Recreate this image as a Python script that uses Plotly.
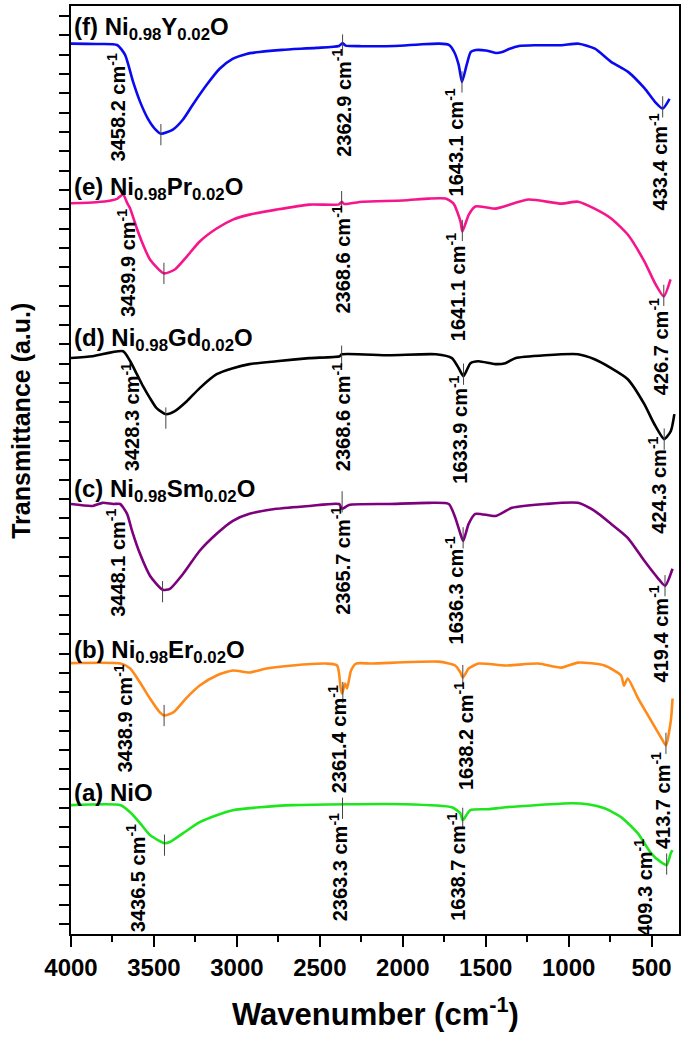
import plotly.graph_objects as go

# ---------------- data (wavenumber cm^-1, transmittance a.u. with offsets) -------------
wn_f = [4000, 3850, 3722, 3674, 3626, 3584, 3536, 3490, 3458, 3386, 3326, 3266, 3182, 3104, 3026, 2942,
        2864, 2726, 2522, 2385, 2363, 2345, 2246, 2050, 1900, 1780, 1720, 1690, 1663, 1643, 1615, 1590,
        1560, 1500, 1440, 1400, 1360, 1300, 1200, 1044, 940, 842, 744, 642, 542, 480, 433, 392]
t_f = [45.57, 45.55, 45.50, 44.99, 43.60, 42.57, 41.68, 41.12, 40.91, 41.12, 41.63, 42.41, 43.44, 44.27,
       44.78, 45.04, 45.14, 45.25, 45.35, 45.45, 45.60, 45.47, 45.44, 45.45, 45.53, 45.57, 45.50, 45.14,
       44.47, 43.59, 44.47, 45.14, 45.24, 45.22, 45.09, 45.14, 45.29, 45.45, 45.49, 45.49, 45.57, 45.31,
       44.63, 44.11, 43.25, 42.56, 42.21, 42.71]

wn_e = [4000, 3850, 3760, 3720, 3686, 3660, 3643, 3603, 3566, 3524, 3440, 3374, 3302, 3224, 3122, 3024,
        2924, 2762, 2564, 2385, 2368, 2352, 2245, 2000, 1843, 1742, 1694, 1652, 1641, 1602, 1562, 1500,
        1442, 1244, 1044, 944, 844, 744, 644, 544, 476, 427, 386]
t_e = [37.31, 37.36, 37.45, 37.55, 37.76, 37.30, 37.03, 36.00, 35.17, 34.40, 33.68, 33.88, 34.55, 35.33,
       36.00, 36.46, 36.72, 36.98, 37.24, 37.25, 37.38, 37.27, 37.39, 37.45, 37.55, 37.55, 37.29, 36.36,
       35.85, 36.72, 37.14, 37.10, 37.03, 37.50, 37.29, 37.39, 37.03, 36.52, 35.69, 34.30, 33.11, 32.49,
       33.37]

wn_d = [4000, 3870, 3686, 3643, 3603, 3566, 3524, 3484, 3428, 3374, 3302, 3224, 3122, 3024, 2924, 2762,
        2564, 2380, 2368, 2083, 1800, 1704, 1663, 1634, 1592, 1544, 1442, 1382, 1322, 1142, 944, 844, 744,
        644, 544, 484, 424, 384, 363]
t_d = [29.30, 29.39, 29.65, 29.13, 28.46, 27.84, 27.22, 26.70, 26.39, 26.55, 27.06, 27.74, 28.46, 28.77,
       28.98, 29.13, 29.29, 29.39, 29.49, 29.44, 29.49, 29.29, 28.77, 28.36, 29.03, 29.13, 28.98, 29.03,
       29.29, 29.44, 29.49, 29.23, 28.77, 28.20, 26.91, 25.88, 25.10, 25.52, 26.39]

wn_c = [4000, 3870, 3810, 3745, 3704, 3662, 3632, 3584, 3524, 3448, 3404, 3324, 3224, 3122, 3024, 2924,
        2762, 2564, 2384, 2366, 2324, 2083, 1843, 1723, 1683, 1653, 1636, 1603, 1563, 1442, 1342, 1142,
        944, 844, 744, 644, 544, 464, 419, 374]
t_c = [21.74, 21.64, 21.80, 21.74, 21.74, 21.23, 20.35, 19.16, 18.03, 17.30, 17.35, 18.13, 19.32, 20.20,
       20.87, 21.23, 21.49, 21.64, 21.74, 21.49, 21.69, 21.74, 21.80, 21.74, 21.02, 20.20, 19.83, 20.71,
       21.23, 21.12, 21.54, 21.74, 21.80, 21.38, 20.71, 19.99, 18.80, 17.92, 17.51, 18.39]

wn_b = [4000, 3700, 3643, 3584, 3524, 3464, 3439, 3384, 3302, 3224, 3122, 3024, 2924, 2822, 2664, 2462,
        2396, 2374, 2366, 2348, 2336, 2312, 2282, 2184, 1784, 1684, 1653, 1638, 1603, 1543, 1382, 1184,
        1044, 944, 784, 684, 667, 644, 584, 504, 444, 414, 384, 374]
t_b = [13.50, 13.48, 13.22, 12.50, 11.67, 10.95, 10.79, 10.95, 11.72, 12.34, 12.86, 13.12, 13.02, 13.22,
       13.38, 13.48, 13.38, 12.19, 11.93, 12.45, 12.19, 13.12, 13.48, 13.48, 13.58, 13.38, 13.02, 12.76,
       13.22, 13.48, 13.38, 13.48, 13.27, 13.53, 13.38, 12.86, 12.34, 12.71, 11.72, 10.54, 9.66, 9.25,
       10.54, 11.67]

wn_a = [4000, 3700, 3643, 3584, 3524, 3436, 3404, 3324, 3224, 3122, 3024, 2864, 2664, 2000, 1704, 1653,
        1639, 1593, 1483, 1382, 984, 884, 784, 684, 584, 504, 444, 409, 384, 374]
t_a = [6.15, 6.15, 5.78, 5.22, 4.60, 4.18, 4.24, 4.70, 5.27, 5.63, 5.89, 6.04, 6.15, 6.20, 6.04, 5.73,
       5.37, 5.89, 5.94, 6.04, 6.25, 6.20, 5.99, 5.53, 4.70, 3.67, 3.20, 3.05, 3.67, 3.82]

# peak positions (cm^-1) and transmittance at the peak markers
peaks_f = [3458.2, 2362.9, 1643.1, 433.4]
mark_f = [40.86, 45.50, 43.59, 42.30]
peaks_e = [3439.9, 2368.6, 1641.1, 426.7]
mark_e = [33.68, 37.39, 35.90, 32.54]
peaks_d = [3428.3, 2368.6, 1633.9, 424.3]
mark_d = [26.19, 29.39, 28.46, 25.10]
peaks_c = [3448.1, 2365.7, 1636.3, 419.4]
mark_c = [17.20, 21.85, 19.99, 17.51]
peaks_b = [3438.9, 2361.4, 1638.2, 413.7]
mark_b = [10.79, 11.98, 12.86, 9.35]
peaks_a = [3436.5, 2363.3, 1638.7, 409.3]
mark_a = [4.08, 5.99, 5.47, 3.10]

sample_names = ["(f) Ni<sub>0.98</sub>Y<sub>0.02</sub>O", "(e) Ni<sub>0.98</sub>Pr<sub>0.02</sub>O",
                "(d) Ni<sub>0.98</sub>Gd<sub>0.02</sub>O", "(c) Ni<sub>0.98</sub>Sm<sub>0.02</sub>O",
                "(b) Ni<sub>0.98</sub>Er<sub>0.02</sub>O", "(a) NiO"]

# ---------------- layout positions (label anchors) ----------------
name_y = [46.33, 38.07, 30.27, 22.42, 14.10, 6.82]
plab_f = [(3725, 42.25), (2366, 42.51), (1687, 40.44), (457, 39.46)]
plab_e = [(3665, 34.19), (2372, 34.40), (1681, 32.95), (457, 29.90)]
plab_d = [(3644, 26.24), (2372, 26.24), (1669, 25.57), (463, 22.73)]
plab_c = [(3728, 18.70), (2372, 18.80), (1687, 17.25), (457, 15.03)]
plab_b = [(3686, 10.64), (2396, 9.56), (1633, 9.71), (445, 6.40)]
plab_a = [(3607, 2.38), (2390, 2.94), (1681, 2.94), (553, 1.91)]

colors = ["#0a0af0", "#f5168c", "#000000", "#7d007d", "#ff8a1a", "#1ee61e"]
FONT = "Liberation Sans, Arial, sans-serif"

series = [
    (wn_f, t_f, peaks_f, mark_f, plab_f),
    (wn_e, t_e, peaks_e, mark_e, plab_e),
    (wn_d, t_d, peaks_d, mark_d, plab_d),
    (wn_c, t_c, peaks_c, mark_c, plab_c),
    (wn_b, t_b, peaks_b, mark_b, plab_b),
    (wn_a, t_a, peaks_a, mark_a, plab_a),
]

fig = go.Figure()
annotations = []
half = 0.55
for i, (wn, tt, pk, mk, pl) in enumerate(series):
    fig.add_trace(go.Scatter(x=wn, y=tt, mode="lines",
                             line=dict(color=colors[i], width=2.6, shape="spline", smoothing=0.6),
                             showlegend=False, hoverinfo="skip"))
    mx, my = [], []
    for p, m in zip(pk, mk):
        mx += [p, p, None]
        my += [m - half, m + half, None]
    fig.add_trace(go.Scatter(x=mx, y=my, mode="lines", line=dict(color="#444444", width=1),
                             showlegend=False, hoverinfo="skip"))
    for p, (lx, ly) in zip(pk, pl):
        annotations.append(dict(x=lx, y=ly, xref="x", yref="y", showarrow=False,
                                text=f"<b>{p:.1f} cm<sup>-1</sup></b>", textangle=-90,
                                xanchor="center", yanchor="middle",
                                font=dict(family=FONT, size=20, color="black")))
    annotations.append(dict(x=4000, y=name_y[i], xref="x", yref="y", showarrow=False,
                            text=f"<b>{sample_names[i]}</b>", xanchor="left", yanchor="middle",
                            xshift=1, font=dict(family=FONT, size=24, color="black")))

annotations.append(dict(x=0.5, y=0, xref="paper", yref="paper", showarrow=False,
                        text="<b>Wavenumber (cm<sup>-1</sup>)</b>", xanchor="center", yanchor="middle",
                        yshift=-78, font=dict(family=FONT, size=31, color="black")))
annotations.append(dict(x=0, y=0.553, xref="paper", yref="paper", showarrow=False,
                        text="<b>Transmittance (a.u.)</b>", textangle=-90, xanchor="center",
                        yanchor="middle", xshift=-50, font=dict(family=FONT, size=25, color="black")))

fig.update_layout(
    width=685, height=1039,
    margin=dict(l=71, r=4, t=4, b=105),
    paper_bgcolor="white", plot_bgcolor="white",
    annotations=annotations,
    xaxis=dict(range=[4000, 335], tick0=500, dtick=500, ticks="outside", ticklen=11, tickwidth=2,
               tickcolor="black", showline=True, linecolor="black", linewidth=2, mirror=True,
               showgrid=False, zeroline=False,
               tickfont=dict(family=FONT, size=24, color="black", weight="bold"),
               minor=dict(dtick=250, ticks="outside", ticklen=6, tickwidth=2, tickcolor="black",
                          showgrid=False)),
    yaxis=dict(range=[-0.52, 47.52], tick0=0, dtick=1, ticks="outside", ticklen=10, tickwidth=2,
               tickcolor="black", showline=True, linecolor="black", linewidth=2, mirror=True,
               showgrid=False, zeroline=False, showticklabels=False),
)

fig.write_html("out.html", config={"displayModeBar": False},
               post_script="document.body.style.margin='0';document.body.style.overflow='hidden';")
